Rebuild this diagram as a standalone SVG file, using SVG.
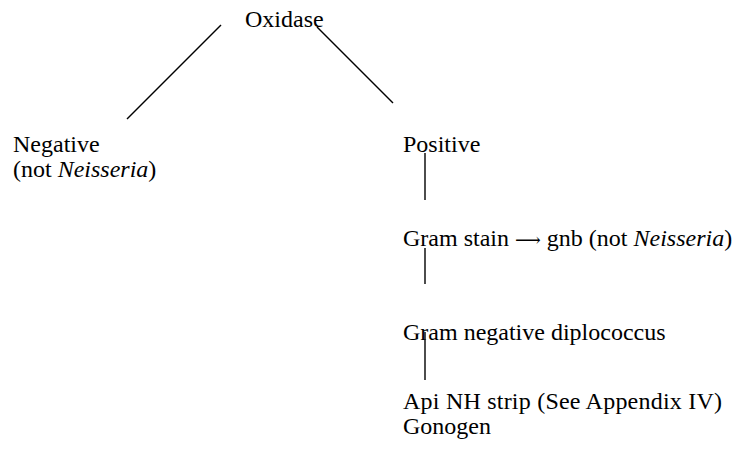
<svg xmlns="http://www.w3.org/2000/svg" width="742" height="472" viewBox="0 0 742 472">
<defs>
<style>
.c line{stroke:#000;stroke-width:1.4;fill:none}
</style>
</defs>
<rect width="742" height="472" fill="#fff"/>
<g id="oxidase"><text x="245" y="27" font-family="Liberation Serif" font-size="24">Oxidase</text></g>
<g id="negative"><text x="13" y="152" font-family="Liberation Serif" font-size="24">Negative</text><text x="13" y="177" font-family="Liberation Serif" font-size="24">(not <tspan font-style="italic">Neisseria</tspan>)</text></g>
<g id="positive"><text x="403" y="152" font-family="Liberation Serif" font-size="24">Positive</text></g>
<g id="gramstain"><text x="403" y="246" font-family="Liberation Serif" font-size="24">Gram stain <tspan font-family="DejaVu Serif" font-size="18">⟶</tspan> gnb (not <tspan font-style="italic">Neisseria</tspan>)</text></g>
<g id="gramneg"><text x="403" y="340" font-family="Liberation Serif" font-size="24">Gram negative diplococcus</text></g>
<g id="api"><text x="403" y="409" font-family="Liberation Serif" font-size="24" textLength="319">Api NH strip (See Appendix IV)</text><text x="403" y="434" font-family="Liberation Serif" font-size="24">Gonogen</text></g>
<g class="c" id="connectors">
<line x1="221" y1="25" x2="127" y2="119"/>
<line x1="317" y1="27" x2="393" y2="103"/>
<line x1="425" y1="153" x2="425" y2="200"/>
<line x1="425" y1="248" x2="425" y2="284"/>
<line x1="425" y1="332" x2="425" y2="380"/>
</g>
</svg>
